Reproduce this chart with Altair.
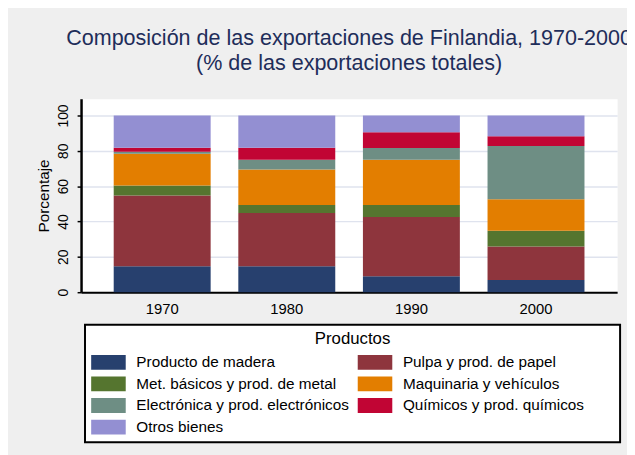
import altair as alt
import pandas as pd

years = ["1970", "1980", "1990", "2000"]
products = [
    "Producto de madera",
    "Pulpa y prod. de papel",
    "Met. básicos y prod. de metal",
    "Maquinaria y vehículos",
    "Electrónica y prod. electrónicos",
    "Químicos y prod. químicos",
    "Otros bienes",
]
madera = [14.7, 14.7, 9.1, 6.9]
pulpa = [40.1, 30.1, 33.5, 18.9]
metal = [5.6, 4.5, 6.7, 9.0]
maquinaria = [18.0, 20.2, 25.6, 17.8]
electronica = [1.1, 5.4, 6.7, 30.1]
quimicos = [2.3, 6.9, 8.9, 5.6]
otros = [18.2, 18.2, 9.5, 11.7]
colors = ["#27406e", "#8e353d", "#55752f", "#e37e00", "#6e8e84", "#c10534", "#938fd2"]
y_ticks = [0, 20, 40, 60, 80, 100]

series = [madera, pulpa, metal, maquinaria, electronica, quimicos, otros]
rows = []
for i, (p, vals) in enumerate(zip(products, series)):
    for y, v in zip(years, vals):
        rows.append({"year": y, "product": p, "value": v, "idx": i})
df = pd.DataFrame(rows)

FONT = "Liberation Sans"
NBSP = "\u00a0"
ZW = "\u200b"
legend_title = ZW + NBSP * 47 + "Productos" + NBSP * 47 + ZW

chart = (
    alt.Chart(df)
    .mark_bar()
    .encode(
        x=alt.X(
            "year:N",
            sort=years,
            scale=alt.Scale(paddingInner=0.222, paddingOuter=0.262),
            axis=alt.Axis(
                title=None, labelAngle=0, ticks=False, tickSize=0, labelPadding=10,
                labelFontSize=15, labelColor="black", domainWidth=2, domainColor="black",
                grid=False, labelFont=FONT,
            ),
        ),
        y=alt.Y(
            "value:Q",
            stack="zero",
            scale=alt.Scale(domain=[0, 109.5], nice=False),
            axis=alt.Axis(
                values=y_ticks, title="Porcentaje", labelAngle=270, labelAlign="center",
                labelBaseline="bottom", labelPadding=7, labelFontSize=14, labelColor="black",
                tickSize=4, tickColor="black", tickWidth=1.5, domainWidth=2.5,
                domainColor="black", gridColor="#dfe3ee", gridWidth=1.5,
                titleFontSize=15.5, titleFontWeight="normal", titleColor="black",
                titlePadding=5, labelFont=FONT, titleFont=FONT,
            ),
        ),
        color=alt.Color(
            "product:N",
            sort=products,
            scale=alt.Scale(domain=products, range=colors),
            legend=alt.Legend(
                title=legend_title, orient="none", legendX=4, legendY=229,
                columns=2, direction="horizontal",
                symbolType="M-2.333,-1L2.333,-1L2.333,1L-2.333,1Z", symbolSize=225,
                symbolOffset=10, labelOffset=20.5,
                symbolStrokeWidth=0, symbolOpacity=1, labelLimit=400, titleLimit=600,
                labelExpr="indexof(datum.label, 'micos y prod') >= 0 ? datum.label + '"
                + NBSP * 7 + ZW + "' : datum.label",
                labelFontSize=15.5, labelFont=FONT, labelColor="black",
                titleFontSize=17, titleFont=FONT, titleFontWeight="normal",
                titleColor="black", titleAnchor="middle", titlePadding=7,
                padding=6, rowPadding=5, columnPadding=8,
                strokeColor="black", fillColor="white",
            ),
        ),
        order=alt.Order("idx:Q"),
    )
    .properties(
        width=543,
        height=196,
        autosize=alt.AutoSizeParams(type="none"),
        padding={"left": 74, "top": 89, "right": 10, "bottom": 162},
        background="#efefef",
        title=alt.TitleParams(
            text=["Composición de las exportaciones de Finlandia, 1970-2000",
                  "(% de las exportaciones totales)"],
            fontSize=21.8, font=FONT, fontWeight="normal", color="#1e2d5a",
            anchor="middle", offset=24, lineHeight=26,
        ),
    )
    .configure_view(fill="white", stroke="transparent")
    .configure_legend(strokeWidth=2)
)

chart.save("out.html", embed_options={"renderer": "svg", "actions": False})
